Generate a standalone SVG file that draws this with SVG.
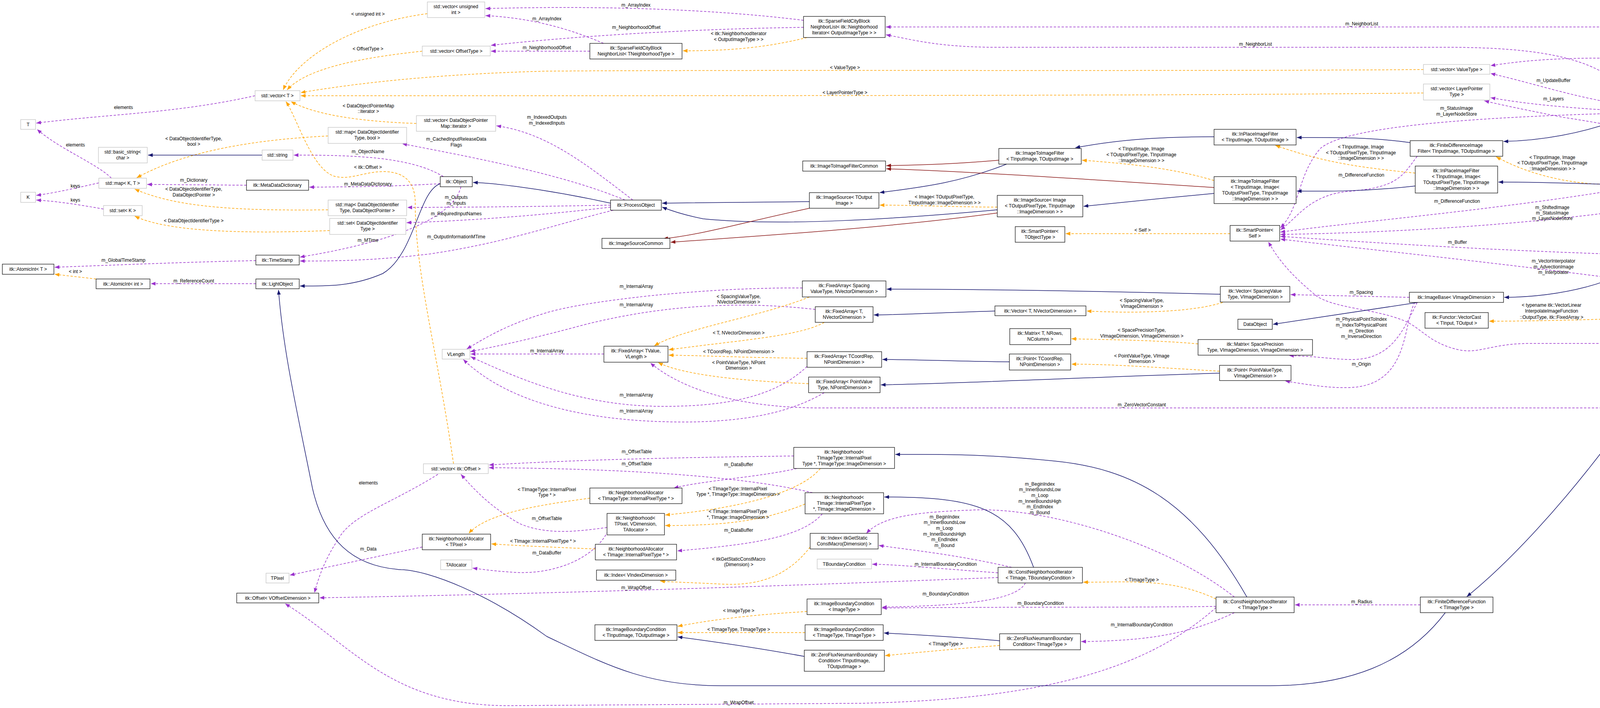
<svg xmlns="http://www.w3.org/2000/svg" width="5576" height="1812" viewBox="0 0 5576 1812">
<style>
text{font-family:"Liberation Sans",Arial,sans-serif;font-size:12px;fill:#000;text-anchor:middle}
.n rect{fill:#fff;stroke:#000;stroke-width:1.2}
.g rect{fill:#fff;stroke:#bfbfbf;stroke-width:1.2}
.p,.o,.b,.r{fill:none}
.p{stroke:#9a32cd;stroke-width:1.5;stroke-dasharray:6,4;marker-end:url(#mp)}
.o{stroke:#ffa500;stroke-width:1.5;stroke-dasharray:6,4;marker-end:url(#mo)}
.b{stroke:#191970;stroke-width:1.5;marker-end:url(#mb)}
.r{stroke:#8b1a1a;stroke-width:1.5;marker-end:url(#mr)}
</style>
<defs>
<marker id="mp" viewBox="0 0 10 10" refX="10" refY="5" markerWidth="12" markerHeight="12" markerUnits="userSpaceOnUse" orient="auto"><path d="M0,1L10,5L0,9z" fill="#9a32cd"/></marker>
<marker id="mo" viewBox="0 0 10 10" refX="10" refY="5" markerWidth="12" markerHeight="12" markerUnits="userSpaceOnUse" orient="auto"><path d="M0,1L10,5L0,9z" fill="#ffa500"/></marker>
<marker id="mb" viewBox="0 0 10 10" refX="10" refY="5" markerWidth="12" markerHeight="12" markerUnits="userSpaceOnUse" orient="auto"><path d="M0,1L10,5L0,9z" fill="#191970"/></marker>
<marker id="mr" viewBox="0 0 10 10" refX="10" refY="5" markerWidth="12" markerHeight="12" markerUnits="userSpaceOnUse" orient="auto"><path d="M0,1L10,5L0,9z" fill="#8b1a1a"/></marker>
</defs>
<rect x="0" y="0" width="5576" height="1812" fill="#fff"/>
<g id="connectors">
<path class="p" d="M2057,52 C1800,20 1500,15 1243,22"/>
<path class="p" d="M1545,111 C1450,70 1350,45 1243,40"/>
<path class="p" d="M2057,70 C1700,75 1400,100 1257,116"/>
<path class="p" d="M1510,131 L1257,131"/>
<path class="p" d="M4710,376 C4650,150 4500,69 4200,69 L2268,69"/>
<path class="p" d="M4180,261 C4120,150 3950,121 3700,121 L2550,121 C2400,121 2330,100 2268,89"/>
<path class="p" d="M4135,265 C4000,240 3950,220 3816,188"/>
<path class="p" d="M4700,376 C4650,250 4450,160 4200,150 C4000,145 3900,155 3816,168"/>
<path class="p" d="M4135,283 C4000,275 3900,265 3816,250"/>
<path class="p" d="M4608,408 C4400,380 4200,330 4000,300 C3900,280 3850,270 3800,258"/>
<path class="p" d="M4135,290 C3800,300 3450,320 3380,380 C3320,450 3330,530 3278,583"/>
<path class="p" d="M3628,400 C3590,450 3580,480 3450,490 C3350,500 3320,560 3278,588"/>
<path class="p" d="M4114,490 C3800,540 3450,570 3278,594"/>
<path class="p" d="M4608,445 C4400,520 3900,590 3278,600"/>
<path class="p" d="M4151,651 C3800,640 3500,620 3278,605"/>
<path class="p" d="M4614,790 C4300,720 3600,650 3278,612"/>
<path class="p" d="M4710,445 C4680,560 4550,680 4299,667"/>
<path class="p" d="M5332,868 C5250,879 5100,879 4900,879 L3916,879 C3820,879 3790,905 3738,896 C3660,880 3640,840 3595,821 C3520,790 3420,790 3371,758 C3300,700 3270,660 3247,619"/>
<path class="p" d="M3608,761 L3304,754"/>
<path class="p" d="M3628,774 C3590,850 3560,925 3450,920 C3400,918 3370,912 3300,910"/>
<path class="p" d="M3622,774 C3590,830 3610,990 3450,992 C3400,993 3350,985 3290,975"/>
<path class="p" d="M4614,805 L4351,805"/>
<path class="p" d="M5041,805 L4833,805"/>
<path class="p" d="M4151,1044 L2100,1044 C1900,1044 1750,1000 1665,929"/>
<path class="p" d="M2054,737 C1800,735 1500,770 1400,800 C1300,830 1250,860 1195,893"/>
<path class="p" d="M2087,792 C1900,770 1700,780 1500,830 C1350,870 1300,880 1204,900"/>
<path class="p" d="M1546,906 L1205,906"/>
<path class="p" d="M2066,938 C2000,1000 1900,1040 1700,1040 C1500,1040 1350,980 1205,913"/>
<path class="p" d="M2110,1005 C2050,1040 1950,1080 1750,1080 C1500,1080 1300,1030 1186,920"/>
<path class="p" d="M2032,1167 C1800,1170 1500,1175 1252,1190"/>
<path class="p" d="M1554,1350 C1480,1360 1400,1370 1330,1340 C1260,1300 1220,1260 1180,1214"/>
<path class="p" d="M2080,1261 C1950,1230 1700,1200 1252,1197"/>
<path class="p" d="M2040,1199 C1950,1220 1800,1230 1725,1249"/>
<path class="p" d="M2105,1315 C2050,1380 1900,1395 1734,1410"/>
<path class="p" d="M1556,1360 C1520,1430 1420,1470 1320,1465 C1270,1462 1240,1458 1210,1454"/>
<path class="p" d="M1081,1400 L742,1472"/>
<path class="p" d="M1121,1214 C1000,1290 900,1317 866,1380 C830,1434 815,1480 805,1517"/>
<path class="p" d="M2555,1478 C2000,1500 1400,1520 818,1530"/>
<path class="p" d="M3113,1555 C2950,1700 2700,1790 2200,1800 L1300,1806 C1000,1806 900,1650 730,1545"/>
<path class="p" d="M2590,1452 C2450,1420 2350,1410 2250,1396"/>
<path class="p" d="M3160,1528 C3000,1400 2700,1300 2500,1305 C2350,1310 2260,1320 2218,1365"/>
<path class="p" d="M2555,1466 C2400,1455 2300,1445 2233,1444"/>
<path class="p" d="M2625,1492 C2600,1540 2450,1550 2258,1554"/>
<path class="p" d="M3113,1552 C2900,1555 2600,1553 2258,1556"/>
<path class="p" d="M3160,1568 C3050,1620 2950,1640 2768,1642"/>
<path class="p" d="M3636,1548 L3315,1548"/>
<path class="p" d="M655,726 L386,726"/>
<path class="p" d="M655,667 C500,670 300,678 140,684"/>
<path class="p" d="M1180,478 C1160,560 1000,620 768,658"/>
<path class="p" d="M1570,538 C1400,580 1300,620 1100,650 C950,668 850,668 768,668"/>
<path class="p" d="M1127,470 C1000,478 900,478 792,479"/>
<path class="p" d="M631,474 L377,472"/>
<path class="p" d="M1135,452 C1050,400 900,397 752,397"/>
<path class="p" d="M1600,512 C1450,450 1250,410 1030,368"/>
<path class="p" d="M1563,525 C1300,530 1200,530 1043,531"/>
<path class="p" d="M1563,530 C1400,550 1200,565 1041,570"/>
<path class="p" d="M1620,512 C1500,420 1400,340 1271,322"/>
<path class="p" d="M653,245 C450,290 300,290 93,315"/>
<path class="p" d="M285,456 C250,420 150,380 95,331"/>
<path class="p" d="M253,468 C180,485 130,495 93,500"/>
<path class="p" d="M265,535 C180,520 140,515 93,512"/>
<path class="o" d="M1094,35 C900,60 760,150 725,230"/>
<path class="o" d="M1081,131 C900,150 780,180 735,230"/>
<path class="o" d="M3644,178 C3000,183 2000,178 1400,182 C1100,190 900,215 770,237"/>
<path class="o" d="M3644,238 C3000,245 2000,245 770,245"/>
<path class="o" d="M1066,316 C900,310 800,290 745,260"/>
<path class="o" d="M1161,1187 C1120,900 1063,700 1063,520 C1063,470 1040,440 982,439 C930,440 900,460 860,452 C800,440 760,300 732,260"/>
<path class="o" d="M840,348 C600,360 450,400 350,455"/>
<path class="o" d="M840,537 C600,540 450,530 345,484"/>
<path class="o" d="M844,590 C600,600 420,590 345,553"/>
<path class="o" d="M246,714 L140,702"/>
<path class="o" d="M2066,96 C1950,125 1850,130 1748,130"/>
<path class="o" d="M2553,530 C2450,530 2350,525 2252,525"/>
<path class="o" d="M3149,598 L2728,598"/>
<path class="o" d="M3108,462 C3000,430 2900,420 2770,410"/>
<path class="o" d="M3623,443 C3500,430 3400,420 3265,372"/>
<path class="o" d="M4114,472 C4000,470 3900,440 3830,401"/>
<path class="o" d="M4628,376 C4550,330 4450,310 4313,301"/>
<path class="o" d="M3130,774 C3050,800 2900,802 2782,796"/>
<path class="o" d="M3067,880 C2950,870 2850,870 2743,867"/>
<path class="o" d="M3122,950 C2950,940 2850,932 2743,932"/>
<path class="o" d="M2072,760 C1950,810 1750,840 1675,885"/>
<path class="o" d="M2110,825 C2050,860 1900,870 1712,895"/>
<path class="o" d="M2066,917 C1900,915 1800,910 1712,909"/>
<path class="o" d="M2070,982 C1900,975 1750,960 1685,928"/>
<path class="o" d="M4099,817 C4000,820 3900,822 3812,822"/>
<path class="o" d="M2100,1199 C2050,1260 1900,1300 1703,1318"/>
<path class="o" d="M2061,1290 C1950,1335 1850,1345 1703,1345"/>
<path class="o" d="M1510,1275 C1400,1290 1250,1310 1200,1365"/>
<path class="o" d="M1524,1405 C1400,1400 1300,1395 1258,1392"/>
<path class="o" d="M2074,1400 C2020,1470 1950,1500 1850,1495 C1750,1490 1720,1490 1690,1487"/>
<path class="o" d="M2066,1565 C1900,1575 1800,1590 1735,1603"/>
<path class="o" d="M2061,1619 L1735,1619"/>
<path class="o" d="M2559,1652 C2450,1660 2350,1670 2266,1678"/>
<path class="o" d="M3113,1533 C3000,1480 2900,1490 2773,1490"/>
<path class="b" d="M671,397 L379,397"/>
<path class="b" d="M1563,520 C1450,495 1300,470 1211,467"/>
<path class="b" d="M1127,470 C1070,490 1063,650 980,700 C900,735 830,732 768,732"/>
<path class="b" d="M2072,516 C1900,518 1800,518 1695,520"/>
<path class="b" d="M2553,537 C2300,560 2000,580 1800,560 C1750,550 1720,540 1695,530"/>
<path class="b" d="M2577,420 C2450,470 2350,480 2252,493"/>
<path class="b" d="M3108,495 C3000,505 2850,520 2774,528"/>
<path class="b" d="M3108,350 C2950,350 2850,360 2753,378"/>
<path class="b" d="M3623,476 C3500,490 3400,490 3320,489"/>
<path class="b" d="M3610,365 C3500,350 3400,352 3320,352"/>
<path class="b" d="M4114,472 C4000,468 3900,466 3836,466"/>
<path class="b" d="M4135,310 C4050,340 3950,360 3849,362"/>
<path class="b" d="M4608,425 C4500,440 4400,455 4336,459"/>
<path class="b" d="M5127,778 C5000,560 4860,480 4766,447"/>
<path class="b" d="M5332,832 L5281,825"/>
<path class="b" d="M4689,832 C4620,950 4450,1000 4299,1022"/>
<path class="b" d="M4170,1063 C4000,1300 3850,1450 3755,1527"/>
<path class="b" d="M3700,1568 C3600,1700 3450,1755 3250,1755 L1846,1755 C1650,1755 1550,1700 1400,1629 C1250,1520 1100,1460 1027,1458 C900,1450 830,1380 800,1250 C760,1050 725,900 713,742"/>
<path class="b" d="M2646,1452 C2590,1300 2500,1272 2264,1272"/>
<path class="b" d="M3192,1528 C3050,1280 2900,1200 2700,1180 C2500,1160 2400,1163 2292,1163"/>
<path class="b" d="M2547,796 C2400,800 2300,806 2237,806"/>
<path class="b" d="M2584,926 C2450,925 2350,920 2259,920"/>
<path class="b" d="M3124,753 C2800,745 2500,740 2270,740"/>
<path class="b" d="M3122,955 C2800,965 2500,980 2255,985"/>
<path class="b" d="M3630,774 L3259,830"/>
<path class="b" d="M4190,673 C4150,720 4000,760 3851,761"/>
<path class="b" d="M2559,1640 C2450,1630 2350,1625 2263,1620"/>
<path class="b" d="M2059,1680 C1950,1660 1850,1645 1735,1630"/>
<path class="r" d="M2557,410 C2450,420 2350,422 2269,424"/>
<path class="r" d="M3108,480 C2800,460 2500,440 2269,432"/>
<path class="r" d="M2072,533 C1900,570 1800,600 1698,611"/>
<path class="r" d="M2553,545 C2300,580 2000,600 1717,620"/>
<g id="labels">
<text x="1628" y="17">m_ArrayIndex</text>
<text x="1400" y="52">m_ArrayIndex</text>
<text x="1629" y="74">m_NeighborhoodOffset</text>
<text x="1400" y="126">m_NeighborhoodOffset</text>
<text x="3486" y="65">m_NeighborList</text>
<text x="3214" y="117">m_NeighborList</text>
<text x="3977" y="210">m_UpdateBuffer</text>
<text x="4215" y="151">m_UpdateBuffer</text>
<text x="3977" y="257">m_Layers</text>
<text x="4205" y="339">m_Layers</text>
<text x="3729" y="281">m_StatusImage</text><text x="3729" y="296">m_LayerNodeStore</text>
<text x="3485" y="452">m_DifferenceFunction</text>
<text x="3730" y="519">m_DifferenceFunction</text>
<text x="3974" y="535">m_ShiftedImage</text><text x="3974" y="549">m_StatusImage</text><text x="3974" y="563">m_LayerNodeStore</text>
<text x="3731" y="624">m_Buffer</text>
<text x="3977" y="672">m_VectorInterpolator</text><text x="3977" y="687">m_AdvectionImage</text><text x="3977" y="701">m_Interpolator</text>
<text x="4481" y="623">m_OutputImage</text>
<text x="4479" y="875">m_GeodesicActiveContourFunction</text>
<text x="3485" y="752">m_Spacing</text>
<text x="3485" y="821">m_PhysicalPointToIndex</text><text x="3485" y="836">m_IndexToPhysicalPoint</text><text x="3485" y="851">m_Direction</text><text x="3485" y="865">m_InverseDirection</text>
<text x="3485" y="936">m_Origin</text>
<text x="4479" y="801">m_VectorCast</text>
<text x="4939" y="801">m_SegmentationFunction</text>
<text x="2923" y="1040">m_ZeroVectorConstant</text>
<text x="1629" y="737">m_InternalArray</text>
<text x="1629" y="784">m_InternalArray</text>
<text x="1400" y="902">m_InternalArray</text>
<text x="1629" y="1015">m_InternalArray</text>
<text x="1629" y="1056">m_InternalArray</text>
<text x="1630" y="1160">m_OffsetTable</text>
<text x="1630" y="1191">m_OffsetTable</text>
<text x="1400" y="1331">m_OffsetTable</text>
<text x="1891" y="1193">m_DataBuffer</text>
<text x="1891" y="1361">m_DataBuffer</text>
<text x="1400" y="1419">m_DataBuffer</text>
<text x="943" y="1409">m_Data</text>
<text x="943" y="1240">elements</text>
<text x="1629" y="1508">m_WrapOffset</text>
<text x="1891" y="1802">m_WrapOffset</text>
<text x="2418" y="1327">m_BeginIndex</text><text x="2418" y="1341">m_InnerBoundsLow</text><text x="2418" y="1356">m_Loop</text><text x="2418" y="1371">m_InnerBoundsHigh</text><text x="2418" y="1385">m_EndIndex</text><text x="2418" y="1400">m_Bound</text>
<text x="2662" y="1243">m_BeginIndex</text><text x="2662" y="1257">m_InnerBoundsLow</text><text x="2662" y="1272">m_Loop</text><text x="2662" y="1287">m_InnerBoundsHigh</text><text x="2662" y="1301">m_EndIndex</text><text x="2662" y="1316">m_Bound</text>
<text x="2421" y="1448">m_InternalBoundaryCondition</text>
<text x="2421" y="1524">m_BoundaryCondition</text>
<text x="2664" y="1548">m_BoundaryCondition</text>
<text x="2923" y="1603">m_InternalBoundaryCondition</text>
<text x="3486" y="1544">m_Radius</text>
<text x="496" y="723">m_ReferenceCount</text>
<text x="316" y="670">m_GlobalTimeStamp</text>
<text x="942" y="619">m_MTime</text>
<text x="1168" y="610">m_OutputInformationMTime</text>
<text x="942" y="475">m_MetaDataDictionary</text>
<text x="496" y="465">m_Dictionary</text>
<text x="942" y="392">m_ObjectName</text>
<text x="1168" y="360">m_CachedInputReleaseData</text><text x="1168" y="375">Flags</text>
<text x="1168" y="509">m_Outputs</text><text x="1168" y="524">m_Inputs</text>
<text x="1168" y="551">m_RequiredInputNames</text>
<text x="1400" y="304">m_IndexedOutputs</text><text x="1400" y="319">m_IndexedInputs</text>
<text x="316" y="279">elements</text>
<text x="193" y="375">elements</text>
<text x="193" y="480">keys</text>
<text x="193" y="516">keys</text>
<text x="942" y="40">&lt; unsigned int &gt;</text>
<text x="942" y="129">&lt; OffsetType &gt;</text>
<text x="2163" y="177">&lt; ValueType &gt;</text>
<text x="2163" y="241">&lt; LayerPointerType &gt;</text>
<text x="943" y="275">&lt; DataObjectPointerMap</text><text x="943" y="289">::iterator &gt;</text>
<text x="942" y="432">&lt; itk::Offset &gt;</text>
<text x="496" y="359">&lt; DataObjectIdentifierType,</text><text x="496" y="373">bool &gt;</text>
<text x="496" y="488">&lt; DataObjectIdentifierType,</text><text x="496" y="503">DataObjectPointer &gt;</text>
<text x="496" y="569">&lt; DataObjectIdentifierType &gt;</text>
<text x="193" y="699">&lt; int &gt;</text>
<text x="1891" y="90">&lt; itk::NeighborhoodIterator</text><text x="1891" y="105">&lt; OutputImageType &gt; &gt;</text>
<text x="2418" y="508">&lt; Image&lt; TOutputPixelType,</text><text x="2418" y="523">TInputImage::ImageDimension &gt; &gt;</text>
<text x="2925" y="593">&lt; Self &gt;</text>
<text x="2922" y="385">&lt; TInputImage, Image</text><text x="2922" y="400">&lt; TOutputPixelType, TInputImage</text><text x="2922" y="415">::ImageDimension &gt; &gt;</text>
<text x="3484" y="380">&lt; TInputImage, Image</text><text x="3484" y="395">&lt; TOutputPixelType, TInputImage</text><text x="3484" y="409">::ImageDimension &gt; &gt;</text>
<text x="3974" y="407">&lt; TInputImage, Image</text><text x="3974" y="421">&lt; TOutputPixelType, TInputImage</text><text x="3974" y="436">::ImageDimension &gt; &gt;</text>
<text x="4478" y="279">&lt; TInputImage, Image</text><text x="4478" y="293">&lt; TOutputPixelType, TInputImage</text><text x="4478" y="308">::ImageDimension &gt; &gt;</text>
<text x="2923" y="773">&lt; SpacingValueType,</text><text x="2923" y="788">VImageDimension &gt;</text>
<text x="2923" y="849">&lt; SpacePrecisionType,</text><text x="2923" y="864">VImageDimension, VImageDimension &gt;</text>
<text x="2923" y="915">&lt; PointValueType, VImage</text><text x="2923" y="929">Dimension &gt;</text>
<text x="1891" y="763">&lt; SpacingValueType,</text><text x="1891" y="777">NVectorDimension &gt;</text>
<text x="1891" y="856">&lt; T, NVectorDimension &gt;</text>
<text x="1891" y="904">&lt; TCoordRep, NPointDimension &gt;</text>
<text x="1891" y="932">&lt; PointValueType, NPoint</text><text x="1891" y="946">Dimension &gt;</text>
<text x="3972" y="785">&lt; typename itk::VectorLinear</text><text x="3972" y="800">InterpolateImageFunction</text><text x="3972" y="816">::OutputType, itk::FixedArray &gt;</text>
<text x="1889" y="1255">&lt; TImageType::InternalPixel</text><text x="1889" y="1269">Type *, TImageType::ImageDimension &gt;</text>
<text x="1889" y="1313">&lt; TImage::InternalPixelType</text><text x="1889" y="1328">*, TImage::ImageDimension &gt;</text>
<text x="1400" y="1257">&lt; TImageType::InternalPixel</text><text x="1400" y="1271">Type * &gt;</text>
<text x="1390" y="1389">&lt; TImage::InternalPixelType * &gt;</text>
<text x="1891" y="1435">&lt; itkGetStaticConstMacro</text><text x="1891" y="1449">(Dimension) &gt;</text>
<text x="1891" y="1567">&lt; ImageType &gt;</text>
<text x="1891" y="1615">&lt; TImageType, TImageType &gt;</text>
<text x="2421" y="1652">&lt; TImageType &gt;</text>
<text x="2923" y="1488">&lt; TImageType &gt;</text>
</g>
</g>
<g id="n1" class="g"><rect x="1094" y="5" width="147" height="40"/><text x="1167" y="21">std::vector&lt; unsigned</text><text x="1167" y="36">int &gt;</text></g>
<g id="n2" class="g"><rect x="1081" y="118" width="174" height="25"/><text x="1168" y="135">std::vector&lt; OffsetType &gt;</text></g>
<g id="n3" class="g"><rect x="653" y="232" width="115" height="26"/><text x="710" y="249">std::vector&lt; T &gt;</text></g>
<g id="n4" class="g"><rect x="53" y="306" width="38" height="25"/><text x="72" y="323">T</text></g>
<g id="n5" class="g"><rect x="1066" y="296" width="203" height="40"/><text x="1167" y="312">std::vector&lt; DataObjectPointer</text><text x="1167" y="327">Map::iterator &gt;</text></g>
<g id="n6" class="g"><rect x="840" y="326" width="201" height="41"/><text x="940" y="342">std::map&lt; DataObjectIdentifier</text><text x="940" y="357">Type, bool &gt;</text></g>
<g id="n7" class="g"><rect x="252" y="377" width="125" height="40"/><text x="314" y="393">std::basic_string&lt;</text><text x="314" y="408">char &gt;</text></g>
<g id="n8" class="g"><rect x="671" y="384" width="79" height="26"/><text x="710" y="401">std::string</text></g>
<g id="n9" class="n"><rect x="631" y="461" width="159" height="26"/><text x="710" y="478">itk::MetaDataDictionary</text></g>
<g id="n10" class="n"><rect x="1127" y="452" width="82" height="26"/><text x="1168" y="469">itk::Object</text></g>
<g id="n11" class="g"><rect x="253" y="456" width="122" height="26"/><text x="314" y="473">std::map&lt; K, T &gt;</text></g>
<g id="n12" class="g"><rect x="53" y="492" width="38" height="26"/><text x="72" y="509">K</text></g>
<g id="n13" class="g"><rect x="840" y="512" width="201" height="40"/><text x="940" y="528">std::map&lt; DataObjectIdentifier</text><text x="940" y="543">Type, DataObjectPointer &gt;</text></g>
<g id="n14" class="g"><rect x="265" y="526" width="99" height="26"/><text x="314" y="543">std::set&lt; K &gt;</text></g>
<g id="n15" class="g"><rect x="844" y="559" width="195" height="41"/><text x="941" y="575">std::set&lt; DataObjectIdentifier</text><text x="941" y="590">Type &gt;</text></g>
<g id="n16" class="n"><rect x="2057" y="42" width="209" height="54"/><text x="2161" y="58">itk::SparseFieldCityBlock</text><text x="2161" y="73">NeighborList&lt; itk::Neighborhood</text><text x="2161" y="88">Iterator&lt; OutputImageType &gt; &gt;</text></g>
<g id="n17" class="n"><rect x="1510" y="111" width="236" height="40"/><text x="1628" y="127">itk::SparseFieldCityBlock</text><text x="1628" y="142">NeighborList&lt; TNeighborhoodType &gt;</text></g>
<g id="n18" class="g"><rect x="3644" y="165" width="170" height="25"/><text x="3729" y="182">std::vector&lt; ValueType &gt;</text></g>
<g id="n19" class="g"><rect x="3644" y="215" width="170" height="41"/><text x="3729" y="231">std::vector&lt; LayerPointer</text><text x="3729" y="246">Type &gt;</text></g>
<g id="n20" class="n"><rect x="2557" y="380" width="211" height="40"/><text x="2662" y="396">itk::ImageToImageFilter</text><text x="2662" y="411">&lt; TInputImage, TOutputImage &gt;</text></g>
<g id="n21" class="n"><rect x="2055" y="412" width="212" height="26"/><text x="2161" y="429">itk::ImageToImageFilterCommon</text></g>
<g id="n22" class="n"><rect x="2072" y="493" width="178" height="40"/><text x="2161" y="509">itk::ImageSource&lt; TOutput</text><text x="2161" y="524">Image &gt;</text></g>
<g id="n23" class="n"><rect x="1563" y="512" width="130" height="26"/><text x="1628" y="529">itk::ProcessObject</text></g>
<g id="n24" class="n"><rect x="2553" y="500" width="219" height="55"/><text x="2662" y="516">itk::ImageSource&lt; Image</text><text x="2662" y="531">&lt; TOutputPixelType, TInputImage</text><text x="2662" y="546">::ImageDimension &gt; &gt;</text></g>
<g id="n25" class="n"><rect x="2599" y="580" width="127" height="40"/><text x="2662" y="596">itk::SmartPointer&lt;</text><text x="2662" y="611">TObjectType &gt;</text></g>
<g id="n26" class="n"><rect x="1541" y="610" width="174" height="26"/><text x="1628" y="627">itk::ImageSourceCommon</text></g>
<g id="n27" class="n"><rect x="3108" y="331" width="210" height="40"/><text x="3213" y="347">itk::InPlaceImageFilter</text><text x="3213" y="362">&lt; TInputImage, TOutputImage &gt;</text></g>
<g id="n28" class="n"><rect x="3610" y="360" width="237" height="40"/><text x="3728" y="376">itk::FiniteDifferenceImage</text><text x="3728" y="391">Filter&lt; TInputImage, TOutputImage &gt;</text></g>
<g id="n29" class="n"><rect x="3108" y="452" width="210" height="69"/><text x="3213" y="468">itk::ImageToImageFilter</text><text x="3213" y="483">&lt; TInputImage, Image&lt;</text><text x="3213" y="498">TOutputPixelType, TInputImage</text><text x="3213" y="513">::ImageDimension &gt; &gt;</text></g>
<g id="n30" class="n"><rect x="3623" y="425" width="211" height="69"/><text x="3728" y="441">itk::InPlaceImageFilter</text><text x="3728" y="456">&lt; TInputImage, Image&lt;</text><text x="3728" y="471">TOutputPixelType, TInputImage</text><text x="3728" y="486">::ImageDimension &gt; &gt;</text></g>
<g id="n31" class="n"><rect x="3149" y="577" width="127" height="40"/><text x="3212" y="593">itk::SmartPointer&lt;</text><text x="3212" y="608">Self &gt;</text></g>
<g id="n32" class="n"><rect x="4135" y="261" width="176" height="54"/><text x="4223" y="277">itk::SparseFieldLevelSet</text><text x="4223" y="292">ImageFilter&lt; TInputImage,</text><text x="4223" y="307">TOutputImage &gt;</text></g>
<g id="n33" class="n"><rect x="4114" y="438" width="220" height="69"/><text x="4224" y="454">itk::FiniteDifferenceImage</text><text x="4224" y="469">Filter&lt; TInputImage, Image</text><text x="4224" y="484">&lt; TOutputPixelType, TInputImage</text><text x="4224" y="499">::ImageDimension &gt; &gt;</text></g>
<g id="n34" class="n"><rect x="4608" y="376" width="229" height="69"/><text x="4722" y="392">itk::SparseFieldLevelSet</text><text x="4722" y="407">ImageFilter&lt; TInputImage,</text><text x="4722" y="422">Image&lt; TOutputPixelType,</text><text x="4722" y="437">TInputImage::ImageDimension &gt; &gt;</text></g>
<g id="n35" class="n"><rect x="655" y="653" width="111" height="25"/><text x="710" y="670">itk::TimeStamp</text></g>
<g id="n36" class="n"><rect x="6" y="676" width="132" height="26"/><text x="72" y="693">itk::AtomicInt&lt; T &gt;</text></g>
<g id="n37" class="n"><rect x="246" y="714" width="138" height="25"/><text x="315" y="731">itk::AtomicInt&lt; int &gt;</text></g>
<g id="n38" class="n"><rect x="655" y="714" width="111" height="25"/><text x="710" y="731">itk::LightObject</text></g>
<g id="n39" class="g"><rect x="1132" y="894" width="71" height="25"/><text x="1167" y="911">VLength</text></g>
<g id="n40" class="g"><rect x="1084" y="1187" width="166" height="25"/><text x="1167" y="1204">std::vector&lt; itk::Offset &gt;</text></g>
<g id="n41" class="n"><rect x="2054" y="719" width="214" height="41"/><text x="2161" y="735">itk::FixedArray&lt; Spacing</text><text x="2161" y="750">ValueType, NVectorDimension &gt;</text></g>
<g id="n42" class="n"><rect x="2087" y="785" width="148" height="40"/><text x="2161" y="801">itk::FixedArray&lt; T,</text><text x="2161" y="816">NVectorDimension &gt;</text></g>
<g id="n43" class="n"><rect x="2547" y="783" width="233" height="25"/><text x="2663" y="800">itk::Vector&lt; T, NVectorDimension &gt;</text></g>
<g id="n44" class="n"><rect x="2585" y="841" width="156" height="41"/><text x="2663" y="857">itk::Matrix&lt; T, NRows,</text><text x="2663" y="872">NColumns &gt;</text></g>
<g id="n45" class="n"><rect x="1546" y="886" width="164" height="41"/><text x="1628" y="902">itk::FixedArray&lt; TValue,</text><text x="1628" y="917">VLength &gt;</text></g>
<g id="n46" class="n"><rect x="2066" y="900" width="191" height="40"/><text x="2161" y="916">itk::FixedArray&lt; TCoordRep,</text><text x="2161" y="931">NPointDimension &gt;</text></g>
<g id="n47" class="n"><rect x="2584" y="906" width="157" height="41"/><text x="2662" y="922">itk::Point&lt; TCoordRep,</text><text x="2662" y="937">NPointDimension &gt;</text></g>
<g id="n48" class="n"><rect x="2070" y="965" width="183" height="40"/><text x="2161" y="981">itk::FixedArray&lt; PointValue</text><text x="2161" y="996">Type, NPointDimension &gt;</text></g>
<g id="n49" class="n"><rect x="2032" y="1145" width="258" height="54"/><text x="2161" y="1161">itk::Neighborhood&lt;</text><text x="2161" y="1176">TImageType::InternalPixel</text><text x="2161" y="1191">Type *, TImageType::ImageDimension &gt;</text></g>
<g id="n50" class="n"><rect x="4151" y="633" width="146" height="40"/><text x="4224" y="649">itk::Image&lt; TPixel,</text><text x="4224" y="664">VImageDimension &gt;</text></g>
<g id="n51" class="n"><rect x="3124" y="733" width="178" height="40"/><text x="3213" y="749">itk::Vector&lt; SpacingValue</text><text x="3213" y="764">Type, VImageDimension &gt;</text></g>
<g id="n52" class="n"><rect x="3608" y="748" width="241" height="26"/><text x="3728" y="765">itk::ImageBase&lt; VImageDimension &gt;</text></g>
<g id="n53" class="n"><rect x="3648" y="800" width="162" height="40"/><text x="3729" y="816">itk::Functor::VectorCast</text><text x="3729" y="831">&lt; TInput, TOutput &gt;</text></g>
<g id="n54" class="n"><rect x="4099" y="771" width="250" height="69"/><text x="4224" y="787">itk::Functor::VectorCast</text><text x="4224" y="802">&lt; typename itk::VectorLinearInterpolate</text><text x="4224" y="817">ImageFunction::OutputType, itk::</text><text x="4224" y="832">FixedArray &gt;</text></g>
<g id="n55" class="n"><rect x="3169" y="817" width="88" height="26"/><text x="3213" y="834">DataObject</text></g>
<g id="n56" class="n"><rect x="3067" y="869" width="293" height="40"/><text x="3213" y="885">itk::Matrix&lt; SpacePrecision</text><text x="3213" y="900">Type, VImageDimension, VImageDimension &gt;</text></g>
<g id="n57" class="n"><rect x="3122" y="935" width="183" height="39"/><text x="3213" y="951">itk::Point&lt; PointValueType,</text><text x="3213" y="966">VImageDimension &gt;</text></g>
<g id="n58" class="n"><rect x="4151" y="1023" width="146" height="40"/><text x="4224" y="1039">itk::LevelSetFunction</text><text x="4224" y="1054">&lt; TImageType &gt;</text></g>
<g id="n59" class="n"><rect x="4614" y="778" width="217" height="54"/><text x="4722" y="794">itk::SegmentationLevelSet</text><text x="4722" y="809">Function&lt; TImageType, TFeature</text><text x="4722" y="824">ImageType &gt;</text></g>
<g id="n60" class="n"><rect x="5041" y="778" width="238" height="54"/><text x="5160" y="794">itk::SegmentationLevelSet</text><text x="5160" y="809">ImageFilter&lt; TInputImage,</text><text x="5160" y="824">TFeatureImage, TOutputPixelType &gt;</text></g>
<g id="n61" class="n"><rect x="5332" y="825" width="237" height="54" style="fill:#bfbfbf"/><text x="5450" y="841">itk::GeodesicActiveContour</text><text x="5450" y="856">LevelSetImageFilter&lt; TInputImage,</text><text x="5450" y="871">TFeatureImage, TOutputPixelType &gt;</text></g>
<g id="n62" class="n"><rect x="1081" y="1367" width="175" height="40"/><text x="1168" y="1383">itk::NeighborhoodAllocator</text><text x="1168" y="1398">&lt; TPixel &gt;</text></g>
<g id="n63" class="g"><rect x="1128" y="1433" width="80" height="25"/><text x="1168" y="1450">TAllocator</text></g>
<g id="n64" class="g"><rect x="681" y="1467" width="59" height="25"/><text x="710" y="1484">TPixel</text></g>
<g id="n65" class="n"><rect x="606" y="1518" width="210" height="25"/><text x="711" y="1535">itk::Offset&lt; VOffsetDimension &gt;</text></g>
<g id="n66" class="n"><rect x="1510" y="1249" width="236" height="40"/><text x="1628" y="1265">itk::NeighborhoodAllocator</text><text x="1628" y="1280">&lt; TImageType::InternalPixelType * &gt;</text></g>
<g id="n67" class="n"><rect x="2061" y="1261" width="201" height="54"/><text x="2161" y="1277">itk::Neighborhood&lt;</text><text x="2161" y="1292">TImage::InternalPixelType</text><text x="2161" y="1307">*, TImage::ImageDimension &gt;</text></g>
<g id="n68" class="n"><rect x="1554" y="1314" width="147" height="55"/><text x="1627" y="1330">itk::Neighborhood&lt;</text><text x="1627" y="1345">TPixel, VDimension,</text><text x="1627" y="1360">TAllocator &gt;</text></g>
<g id="n69" class="n"><rect x="2074" y="1365" width="174" height="40"/><text x="2161" y="1381">itk::Index&lt; itkGetStatic</text><text x="2161" y="1396">ConstMacro(Dimension) &gt;</text></g>
<g id="n70" class="n"><rect x="1524" y="1393" width="208" height="40"/><text x="1628" y="1409">itk::NeighborhoodAllocator</text><text x="1628" y="1424">&lt; TImage::InternalPixelType * &gt;</text></g>
<g id="n71" class="g"><rect x="2092" y="1431" width="139" height="25"/><text x="2161" y="1448">TBoundaryCondition</text></g>
<g id="n72" class="n"><rect x="2555" y="1452" width="216" height="40"/><text x="2663" y="1468">itk::ConstNeighborhoodIterator</text><text x="2663" y="1483">&lt; TImage, TBoundaryCondition &gt;</text></g>
<g id="n73" class="n"><rect x="1527" y="1459" width="203" height="26"/><text x="1628" y="1476">itk::Index&lt; VIndexDimension &gt;</text></g>
<g id="n74" class="n"><rect x="2066" y="1533" width="190" height="40"/><text x="2161" y="1549">itk::ImageBoundaryCondition</text><text x="2161" y="1564">&lt; ImageType &gt;</text></g>
<g id="n75" class="n"><rect x="1523" y="1599" width="210" height="40"/><text x="1628" y="1615">itk::ImageBoundaryCondition</text><text x="1628" y="1630">&lt; TInputImage, TOutputImage &gt;</text></g>
<g id="n76" class="n"><rect x="2061" y="1599" width="200" height="40"/><text x="2161" y="1615">itk::ImageBoundaryCondition</text><text x="2161" y="1630">&lt; TImageType, TImageType &gt;</text></g>
<g id="n77" class="n"><rect x="2559" y="1622" width="207" height="41"/><text x="2662" y="1638">itk::ZeroFluxNeumannBoundary</text><text x="2662" y="1653">Condition&lt; TImageType &gt;</text></g>
<g id="n78" class="n"><rect x="2059" y="1664" width="205" height="54"/><text x="2161" y="1680">itk::ZeroFluxNeumannBoundary</text><text x="2161" y="1695">Condition&lt; TInputImage,</text><text x="2161" y="1710">TOutputImage &gt;</text></g>
<g id="n79" class="n"><rect x="3113" y="1528" width="200" height="40"/><text x="3213" y="1544">itk::ConstNeighborhoodIterator</text><text x="3213" y="1559">&lt; TImageType &gt;</text></g>
<g id="n80" class="n"><rect x="3636" y="1528" width="186" height="40"/><text x="3729" y="1544">itk::FiniteDifferenceFunction</text><text x="3729" y="1559">&lt; TImageType &gt;</text></g>
</svg>
